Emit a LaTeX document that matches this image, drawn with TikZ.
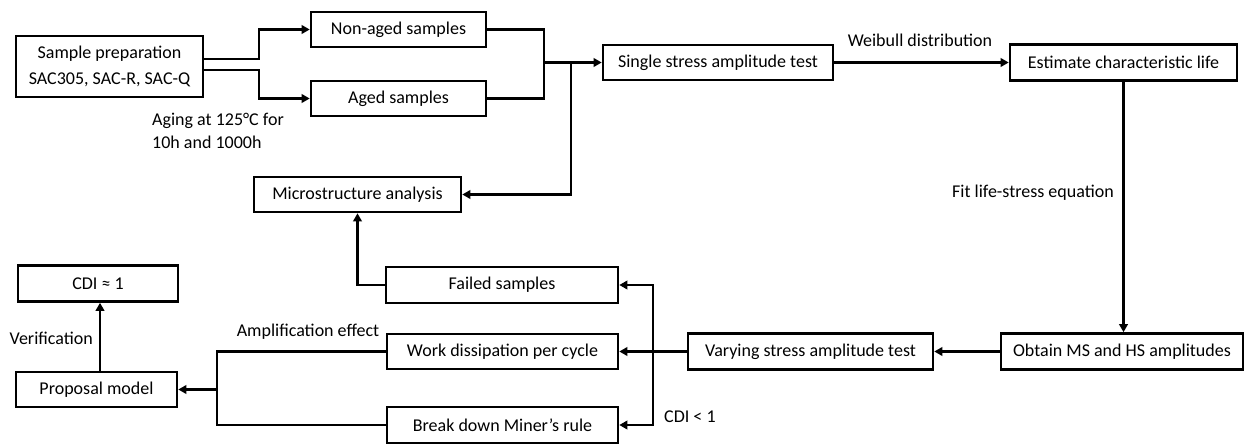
\documentclass[tikz,border=0pt]{standalone}
\usepackage{fontspec}
\setmainfont{Carlito}
\usetikzlibrary{arrows.meta}
\begin{document}
\begin{tikzpicture}[x=1pt,y=-1pt,
  every node/.style={font=\fontsize{18}{26}\selectfont},
  bx/.style={draw, line width=2.6pt, minimum height=35pt, inner sep=0pt, align=center},
  conn/.style={line width=2.3pt},
  arr/.style={line width=2.3pt, -{Triangle[length=8pt,width=8.5pt]}},
  lab/.style={inner sep=1pt}]
\useasboundingbox (0,0) rectangle (1245,444);
% boxes
\node[bx, minimum width=187pt, minimum height=61pt] (prep) at (109.5,66.5) {Sample preparation\\SAC305, SAC-R, SAC-Q};
\node[bx, minimum width=175pt] (nonaged) at (398.5,29.5) {Non-aged samples};
\node[bx, minimum width=175pt] (aged) at (398.5,98.5) {Aged samples};
\node[bx, minimum width=230pt] (single) at (718,62.5) {Single stress amplitude test};
\node[bx, minimum width=227pt, minimum height=36pt] (estimate) at (1123.5,62.5) {Estimate characteristic life};
\node[bx, minimum width=207pt] (micro) at (357.5,194.5) {Microstructure analysis};
\node[bx, minimum width=232pt, minimum height=36pt] (failed) at (502,285) {Failed samples};
\node[bx, minimum width=231pt] (work) at (502.5,351.5) {Work dissipation per cycle};
\node[bx, minimum width=231pt, minimum height=36pt] (break) at (502.5,425) {Break down Miner’s rule};
\node[bx, minimum width=245pt, minimum height=36pt] (varying) at (810.5,351.5) {Varying stress amplitude test};
\node[bx, minimum width=242pt, minimum height=36pt] (obtain) at (1122,351.5) {Obtain MS and HS amplitudes};
\node[bx, minimum width=160pt, minimum height=36pt] (cdione) at (98,283.5) {CDI ≈ 1};
\node[bx, minimum width=161pt] (proposal) at (96.5,389.5) {Proposal model};
% free labels
\node[lab, align=left, anchor=west, font=\fontsize{18}{23}\selectfont] (aging) at (151,130.5) {Aging at 125°C for\\10h and 1000h};
\node[lab] (weib) at (920,40) {Weibull distribution};
\node[lab, anchor=east] (fit) at (1115,193) {Fit life-stress equation};
\node[lab] (ampl) at (308,332) {Amplification effect};
\node[lab, anchor=west] (cdilt) at (663,417) {CDI < 1};
\node[lab, anchor=east] (verif) at (94,338) {Verification};
% junction coordinates
\coordinate (j) at (544,62.5);
\coordinate (b) at (571,62.5);
\coordinate (bus) at (653,351.5);
\coordinate (pm) at (217,389.5);
% connectors
\draw[arr] ([yshift=7.5pt]prep.east) -- ++(55,0) |- (nonaged.west);
\draw[arr] ([yshift=-3.5pt]prep.east) -- ++(55,0) |- (aged.west);
\draw[conn] (nonaged.east) -| (j);
\draw[conn] (aged.east) -| (j);
\draw[arr] (j) -- (single.west);
\draw[arr] (b) |- (micro.east);
\draw[arr] (single.east) -- (estimate.west);
\draw[arr] (estimate.south) -- (estimate.south |- obtain.north);
\draw[arr] (obtain.west) -- (varying.east);
\draw[arr] (varying.west) -- (work.east);
\draw[arr] (bus) |- (failed.east);
\draw[arr] (bus) |- (break.east);
\draw[arr] (failed.west) -| (micro.south);
\draw[conn] (work.west) -| (pm) |- (break.west);
\draw[arr] (pm) -- (proposal.east);
\draw[arr] (proposal.north -| 100,0) -- (cdione.south -| 100,0);
\end{tikzpicture}
\end{document}
